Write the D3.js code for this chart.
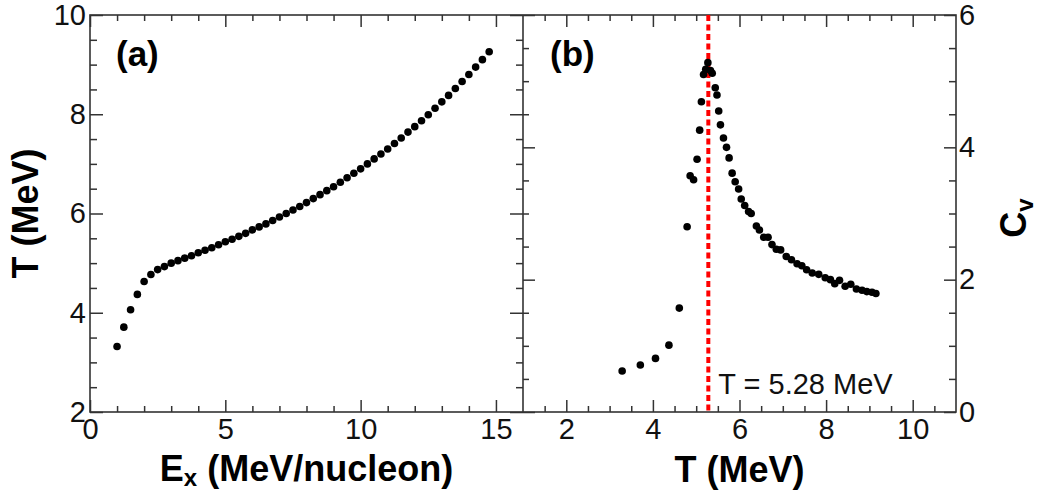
<!DOCTYPE html>
<html>
<head>
<meta charset="utf-8">
<script src="https://cdn.jsdelivr.net/npm/d3@7"></script>
<style>
body { margin: 0; background: #fff; }
svg { display: block; font-family: "Liberation Sans", Arial, Helvetica, sans-serif; }
</style>
</head>
<body>
<div id="chart"></div>
<script>
// panel (a): T vs excitation energy
var energy = [1.0, 1.25, 1.5, 1.75, 2.0, 2.25, 2.5, 2.75, 3.0, 3.25, 3.5, 3.75, 4.0, 4.25,
  4.5, 4.75, 5.0, 5.25, 5.5, 5.75, 6.0, 6.25, 6.5, 6.75, 7.0, 7.25, 7.5, 7.75, 8.0, 8.25,
  8.5, 8.75, 9.0, 9.25, 9.5, 9.75, 10.0, 10.25, 10.5, 10.75, 11.0, 11.25, 11.5, 11.75,
  12.0, 12.25, 12.5, 12.75, 13.0, 13.25, 13.5, 13.75, 14.0, 14.25, 14.5, 14.75];
var tempA = [3.32, 3.71, 4.06, 4.37, 4.63, 4.77, 4.87, 4.93, 5.00, 5.05, 5.10, 5.15, 5.21, 5.26,
  5.31, 5.37, 5.43, 5.48, 5.54, 5.60, 5.67, 5.73, 5.79, 5.86, 5.93, 6.00, 6.07, 6.14, 6.22, 6.30,
  6.38, 6.46, 6.54, 6.63, 6.72, 6.81, 6.90, 7.00, 7.10, 7.20, 7.30, 7.41, 7.52, 7.64,
  7.75, 7.87, 7.99, 8.12, 8.25, 8.38, 8.52, 8.66, 8.80, 8.95, 9.10, 9.26];

// panel (b): Cv vs T
var tempB = [3.29, 3.71, 4.06, 4.37, 4.61, 4.79, 4.86, 4.94, 5.02, 5.08, 5.12, 5.17, 5.22, 5.27,
  5.33, 5.37, 5.44, 5.48, 5.52, 5.56, 5.63, 5.70, 5.76, 5.83, 5.90, 5.98, 6.04, 6.12, 6.21,
  6.27, 6.39, 6.46, 6.56, 6.66, 6.75, 6.85, 6.95, 7.08, 7.20, 7.33, 7.44, 7.55, 7.68, 7.83,
  7.98, 8.10, 8.20, 8.31, 8.44, 8.57, 8.70, 8.83, 8.94, 9.06, 9.15];
var cv = [0.62, 0.71, 0.81, 1.01, 1.57, 2.80, 3.57, 3.51, 3.82, 4.26, 4.69, 5.10, 5.18, 5.28,
  5.16, 5.12, 4.90, 4.79, 4.55, 4.34, 4.14, 4.00, 3.84, 3.61, 3.48, 3.37, 3.22, 3.12, 3.03,
  3.00, 2.81, 2.75, 2.64, 2.64, 2.53, 2.46, 2.45, 2.35, 2.30, 2.24, 2.21, 2.15, 2.10, 2.08,
  2.03, 2.00, 1.94, 1.99, 1.90, 1.93, 1.86, 1.84, 1.82, 1.81, 1.79];
var peakT = 5.28;

// ticks
var exMajor = [0, 5, 10, 15];
var exMinor = [1, 2, 3, 4, 6, 7, 8, 9, 11, 12, 13, 14];
var taMajor = [2, 4, 6, 8, 10];
var taMinor = [2.5, 3, 3.5, 4.5, 5, 5.5, 6.5, 7, 7.5, 8.5, 9, 9.5];
var tbMajor = [2, 4, 6, 8, 10];
var tbMinor = [1.5, 2.5, 3, 3.5, 4.5, 5, 5.5, 6.5, 7, 7.5, 8.5, 9, 9.5, 10.5];
var cvMajor = [0, 2, 4, 6];
var cvMinor = [0.5, 1, 1.5, 2.5, 3, 3.5, 4.5, 5, 5.5];

var W = 1039, H = 492;
var pTop = 15, pBottom = 412, pLeft = 90, pMid = 523, pRight = 956;
var axisColor = "#333";

var svg = d3.select("#chart").append("svg")
  .attr("width", W)
  .attr("height", H);
svg.append("rect").attr("width", W).attr("height", H).attr("fill", "#fff");

var xa = d3.scaleLinear().domain([0, 16]).range([pLeft, pMid]);
var ya = d3.scaleLinear().domain([2, 10]).range([pBottom, pTop]);
var xb = d3.scaleLinear().domain([1, 11]).range([pMid, pRight]);
var yb = d3.scaleLinear().domain([0, 6]).range([pBottom, pTop]);

// draws one set of ticks, labels optional
function ticks(axis, values, size, x, y, labels, pad) {
  var g = svg.append("g")
    .attr("transform", "translate(" + x + "," + y + ")")
    .call(axis.tickValues(values).tickSize(-size).tickSizeOuter(0)
      .tickPadding(pad || 0)
      .tickFormat(labels ? d3.format("d") : ""));
  g.select(".domain").remove();
  g.selectAll("line").attr("stroke", axisColor).attr("stroke-width", 1.5);
  g.selectAll("text")
    .attr("fill", "#111")
    .style("font-size", "29px")
    .style("font-family", "'Liberation Sans', Arial, sans-serif");
  return g;
}

// panel (a) axes
ticks(d3.axisBottom(xa), exMajor, 12, 0, pBottom, true, 6);
ticks(d3.axisBottom(xa), exMinor, 6, 0, pBottom, false);
ticks(d3.axisTop(xa), exMajor, 12, 0, pTop, false);
ticks(d3.axisTop(xa), exMinor, 6, 0, pTop, false);
ticks(d3.axisLeft(ya), taMajor, 13, pLeft, 0, true, 4);
ticks(d3.axisLeft(ya), taMinor, 7, pLeft, 0, false);
ticks(d3.axisRight(ya), taMajor, 13, pMid, 0, false);
ticks(d3.axisRight(ya), taMinor, 7, pMid, 0, false);

// panel (b) axes
ticks(d3.axisBottom(xb), tbMajor, 12, 0, pBottom, true, 6);
ticks(d3.axisBottom(xb), tbMinor, 6, 0, pBottom, false);
ticks(d3.axisTop(xb), tbMajor, 12, 0, pTop, false);
ticks(d3.axisTop(xb), tbMinor, 6, 0, pTop, false);
ticks(d3.axisLeft(yb), cvMajor, 12, pMid, 0, false);
ticks(d3.axisLeft(yb), cvMinor, 6, pMid, 0, false);
ticks(d3.axisRight(yb), cvMajor, 12, pRight, 0, true, 3);
ticks(d3.axisRight(yb), cvMinor, 7, pRight, 0, false);

// frames
svg.append("rect")
  .attr("x", pLeft).attr("y", pTop)
  .attr("width", pRight - pLeft).attr("height", pBottom - pTop)
  .attr("fill", "none").attr("stroke", axisColor).attr("stroke-width", 1.6);
svg.append("line")
  .attr("x1", pMid).attr("x2", pMid).attr("y1", pTop).attr("y2", pBottom)
  .attr("stroke", axisColor).attr("stroke-width", 1.6);

// points (a)
svg.append("g").selectAll("circle")
  .data(energy)
  .enter().append("circle")
  .attr("cx", function(d) { return xa(d); })
  .attr("cy", function(d, i) { return ya(tempA[i]); })
  .attr("r", 3.8)
  .attr("fill", "#000");

// peak temperature line
svg.append("line")
  .attr("x1", xb(peakT)).attr("x2", xb(peakT))
  .attr("y1", pTop).attr("y2", pBottom)
  .attr("stroke", "#ff0000")
  .attr("stroke-width", 4)
  .attr("stroke-dasharray", "6,3.5");

// points (b)
svg.append("g").selectAll("circle")
  .data(tempB)
  .enter().append("circle")
  .attr("cx", function(d) { return xb(d); })
  .attr("cy", function(d, i) { return yb(cv[i]); })
  .attr("r", 3.8)
  .attr("fill", "#000");

// labels
svg.append("text")
  .attr("x", xb(peakT) + 10).attr("y", 394)
  .style("font-size", "29px")
  .attr("fill", "#111")
  .text("T = " + peakT.toFixed(2) + " MeV");

svg.append("text")
  .attr("x", 116).attr("y", 66)
  .style("font-size", "35px").style("font-weight", "bold")
  .text("(a)");
svg.append("text")
  .attr("x", 550).attr("y", 66)
  .style("font-size", "35px").style("font-weight", "bold")
  .text("(b)");

var xlab = svg.append("text")
  .attr("x", (pLeft + pMid) / 2).attr("y", 481)
  .attr("text-anchor", "middle")
  .style("font-size", "36px").style("font-weight", "bold");
xlab.append("tspan").text("E");
xlab.append("tspan").attr("dy", 5).style("font-size", "24px").text("x");
xlab.append("tspan").attr("dy", -5).text(" (MeV/nucleon)");

svg.append("text")
  .attr("x", (pMid + pRight) / 2).attr("y", 482)
  .attr("text-anchor", "middle")
  .style("font-size", "36px").style("font-weight", "bold")
  .text("T (MeV)");

svg.append("text")
  .attr("transform", "translate(38," + ((pTop + pBottom) / 2) + ") rotate(-90)")
  .attr("text-anchor", "middle")
  .style("font-size", "36px").style("font-weight", "bold")
  .text("T (MeV)");

var cvlab = svg.append("text")
  .attr("transform", "translate(1026,218) rotate(-90)")
  .attr("text-anchor", "middle")
  .style("font-size", "36px").style("font-weight", "bold");
cvlab.append("tspan").text("C");
cvlab.append("tspan").attr("dy", 7).style("font-size", "24px").text("v");
</script>
</body>
</html>
